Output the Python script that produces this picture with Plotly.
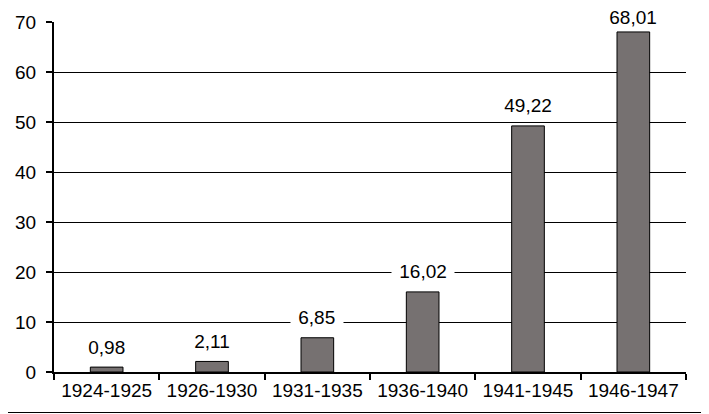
import plotly.graph_objects as go

categories = ["1924-1925", "1926-1930", "1931-1935", "1936-1940", "1941-1945", "1946-1947"]
values = [0.98, 2.11, 6.85, 16.02, 49.22, 68.01]
y_ticks = [0, 10, 20, 30, 40, 50, 60, 70]

# page body has an 8px margin; figure is sized/offset to compensate
OFF = 8
W, H = 709 - OFF, 414 - OFF
L, R, T, B = 54 - OFF, 23, 22 - OFF, 42
PW, PH = W - L - R, H - T - B
Y_MAX = 70

FONT = "Liberation Sans, Arial, sans-serif"

fig = go.Figure()
fig.add_trace(go.Bar(
    x=categories, y=values,
    marker=dict(color="#767171", line=dict(color="#000000", width=1)),
    width=0.31,
    hoverinfo="skip",
))

NBSP = "\u00a0"
for c, v in zip(categories, values):
    # label centre sits ~20px above the bar top, kept inside the figure
    bar_top_px = T + (Y_MAX - v) * PH / Y_MAX
    shift = min(20, bar_top_px - 9)
    fig.add_annotation(
        x=c, y=v, text=NBSP + f"{v:.2f}".replace(".", ",") + NBSP,
        showarrow=False, yanchor="middle", yshift=shift,
        bgcolor="#ffffff", borderpad=2,
        font=dict(family=FONT, size=19, color="#000000"),
    )

fig.add_shape(type="line", xref="paper", yref="paper",
              x0=-L / PW, x1=(W - L) / PW,
              y0=-40.5 / PH, y1=-40.5 / PH,
              line=dict(color="#000000", width=1))

fig.update_layout(
    width=W, height=H,
    margin=dict(l=L, r=R, t=T, b=B, pad=0, autoexpand=False),
    paper_bgcolor="#ffffff", plot_bgcolor="#ffffff",
    showlegend=False,
    font=dict(family=FONT, size=19, color="#000000"),
    bargap=0.69,
)
fig.update_xaxes(
    type="category", showline=True, linecolor="#000000", linewidth=2,
    ticks="outside", tickson="boundaries", ticklen=6, tickwidth=2, tickcolor="#000000",
    showgrid=False, zeroline=False, automargin=False,
    tickfont=dict(family=FONT, size=19, color="#000000"),
)
fig.update_yaxes(
    range=[0, Y_MAX], tickvals=y_ticks, ticktext=[str(t) for t in y_ticks],
    showline=True, linecolor="#000000", linewidth=2,
    ticks="outside", ticklen=6, tickwidth=2, tickcolor="#000000",
    showgrid=True, gridcolor="#000000", gridwidth=1, zeroline=False,
    ticklabelstandoff=6, automargin=False,
    tickfont=dict(family=FONT, size=19, color="#000000"),
)

fig.write_html("out.html")
